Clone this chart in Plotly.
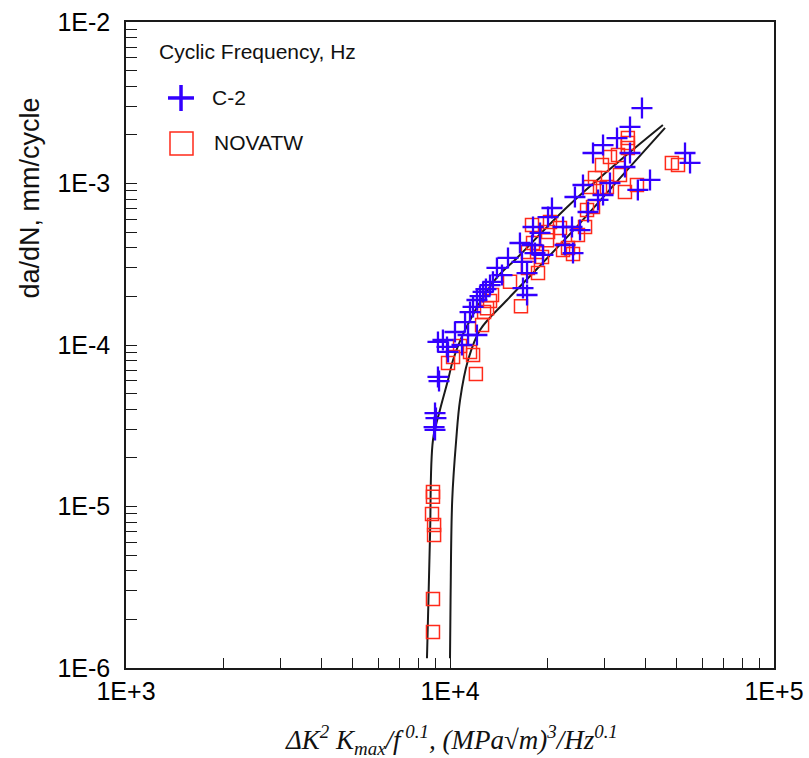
import plotly.graph_objects as go

# ---- data ----
c2_x = [8.99e3, 9.05e3, 8.93e3, 8.99e3, 9.18e3, 9.25e3, 9.18e3, 9.51e3, 9.79e3, 9.86e3,
        1.036e4, 1.089e4, 1.113e4, 1.137e4, 1.211e4, 1.153e4, 1.178e4, 1.211e4, 1.238e4, 1.265e4,
        1.291e4, 1.329e4, 1.357e4, 1.396e4, 1.447e4, 1.51e4, 1.644e4, 1.668e4, 1.680e4, 1.729e4,
        1.729e4, 1.791e4, 1.829e4, 1.804e4, 1.896e4, 1.936e4, 2.007e4, 2.064e4, 2.233e4, 2.380e4,
        2.519e4, 2.265e4, 2.397e4, 2.43e4, 2.573e4, 2.763e4, 2.863e4, 2.967e4, 2.967e4, 3.117e4,
        3.277e4, 3.467e4, 3.594e4, 3.594e4, 3.913e4, 3.80e4, 4.143e4, 5.313e4, 5.506e4, 2.667e4]
c2_y = [3.79e-5, 3.53e-5, 3.10e-5, 2.98e-5, 6.34e-5, 5.98e-5, 1.045e-4, 1.074e-4, 9.73e-5, 9.06e-5,
        1.204e-4, 1.0e-4, 1.387e-4, 1.153e-4, 1.153e-4, 1.60e-4, 1.72e-4, 1.90e-4, 2.01e-4, 2.13e-4,
        2.22e-4, 2.35e-4, 2.46e-4, 3.00e-4, 2.71e-4, 3.46e-4, 4.28e-4, 3.27e-4, 2.25e-4, 2.04e-4,
        2.79e-4, 4.16e-4, 3.71e-4, 5.38e-4, 4.94e-4, 3.61e-4, 6.20e-4, 7.05e-4, 5.38e-4, 5.38e-4,
        5.15e-4, 4.16e-4, 3.71e-4, 8.25e-4, 9.79e-4, 1.545e-3, 7.91e-4, 8.49e-4, 1.73e-3, 1.007e-3,
        1.91e-3, 1.265e-3, 1.545e-3, 2.24e-3, 2.93e-3, 9.12e-4, 1.052e-3, 1.545e-3, 1.34e-3, 6.66e-4]

nova_x = [8.86e3, 8.86e3, 8.80e3, 8.93e3, 8.93e3, 8.86e3, 8.86e3, 9.86e3, 1.022e4, 1.074e4,
          1.153e4, 1.178e4, 1.202e4, 1.256e4, 1.274e4, 1.301e4, 1.329e4, 1.348e4, 1.532e4, 1.656e4,
          1.740e4, 1.869e4, 1.804e4, 1.791e4, 1.993e4, 2.007e4, 2.035e4, 2.185e4, 1.856e4, 1.923e4,
          2.233e4, 2.313e4, 2.397e4, 2.483e4, 2.611e4, 2.648e4, 2.763e4, 2.704e4, 2.904e4, 3.05e4,
          2.802e4, 2.945e4, 3.117e4, 3.30e4, 3.347e4, 3.467e4, 3.54e4, 3.54e4, 3.54e4, 3.776e4,
          4.84e4, 5.055e4, 1.740e4]
nova_y = [1.23e-5, 1.15e-5, 8.99e-6, 7.68e-6, 6.66e-6, 2.67e-6, 1.67e-6, 7.74e-5, 8.43e-5, 9.86e-5,
          9.06e-5, 8.67e-5, 6.61e-5, 1.33e-4, 1.60e-4, 1.69e-4, 1.87e-4, 2.04e-4, 2.46e-4, 1.74e-4,
          3.00e-4, 2.79e-4, 4.28e-4, 5.54e-4, 4.46e-4, 5.01e-4, 5.78e-4, 5.30e-4, 3.77e-4, 3.51e-4,
          3.87e-4, 3.99e-4, 3.66e-4, 4.80e-4, 5.38e-4, 6.85e-4, 7.15e-4, 9.50e-4, 9.37e-4, 9.50e-4,
          1.082e-3, 1.302e-3, 1.459e-3, 1.50e-3, 1.13e-3, 8.86e-4, 1.91e-3, 1.78e-3, 1.66e-3, 9.79e-4,
          1.34e-3, 1.30e-3, 3.77e-4]

fit1_x = [8.49e3, 8.58e3, 8.68e3, 8.86e3, 9.31e3, 9.86e3, 1.022e4, 1.113e4, 1.377e4, 1.61e4,
          2.30e4, 3.28e4, 4.54e4]
fit1_y = [1.15e-6, 2.64e-6, 6.86e-6, 2.58e-5, 3.96e-5, 6.07e-5, 8.07e-5, 1.24e-4, 2.53e-4, 3.46e-4,
          7.15e-4, 1.34e-3, 2.30e-3]
fit2_x = [1.0e4, 1.004e4, 1.016e4, 1.045e4, 1.074e4, 1.137e4, 1.238e4, 1.50e4, 1.804e4, 2.52e4,
          3.52e4, 4.61e4]
fit2_y = [1.15e-6, 2.64e-6, 1.10e-5, 2.58e-5, 4.56e-5, 8.07e-5, 1.24e-4, 1.90e-4, 2.79e-4, 5.69e-4,
          1.21e-3, 2.21e-3]

x_tickvals = [1e3, 1e4, 1e5]
x_ticktext = ["1E+3", "1E+4", "1E+5"]
y_tickvals = [1e-6, 1e-5, 1e-4, 1e-3, 1e-2]
y_ticktext = ["1E-6", "1E-5", "1E-4", "1E-3", "1E-2"]
minor_digits = [2, 3, 4, 5, 6, 7, 8, 9]
x_minor = [d * 10 ** e for e in (3, 4) for d in minor_digits]
y_minor = [d * 10.0 ** e for e in (-6, -5, -4, -3) for d in minor_digits]

BLUE = "#3300ff"
RED = "#ff2a1a"
INK = "#1a1a1a"

fig = go.Figure()
for fx, fy in ((fit1_x, fit1_y), (fit2_x, fit2_y)):
    fig.add_trace(go.Scatter(x=fx, y=fy, mode="lines",
                             line=dict(color=INK, width=2, shape="spline", smoothing=1.0),
                             hoverinfo="skip"))
fig.add_trace(go.Scatter(x=nova_x, y=nova_y, mode="markers", name="NOVATW",
                         marker=dict(symbol="square-open", size=13,
                                     color=RED, line=dict(color=RED, width=1.5))))
fig.add_trace(go.Scatter(x=c2_x, y=c2_y, mode="markers", name="C-2",
                         marker=dict(symbol="cross-thin", size=15,
                                     color=BLUE, line=dict(color=BLUE, width=2.3))))

tickfont = dict(family="Liberation Sans, Arial, sans-serif", size=25, color="black")
fig.update_xaxes(type="log", range=[3, 5], tickmode="array", tickvals=x_tickvals,
                 ticktext=x_ticktext, ticks="inside", ticklen=10, tickwidth=1.3,
                 tickcolor=INK, showline=True, linecolor=INK, linewidth=1.5, mirror=True,
                 showgrid=False, zeroline=False, tickfont=tickfont, automargin=False,
                 minor=dict(tickmode="array", tickvals=x_minor, ticks="inside",
                            ticklen=10, tickwidth=1.3, tickcolor=INK, showgrid=False))
fig.update_yaxes(type="log", range=[-6, -2], tickmode="array", tickvals=y_tickvals,
                 ticktext=y_ticktext, ticks="inside", ticklen=11, tickwidth=1.3,
                 tickcolor=INK, showline=True, linecolor=INK, linewidth=1.5, mirror=True,
                 showgrid=False, zeroline=False, tickfont=tickfont, automargin=False,
                 ticklabelstandoff=9,
                 minor=dict(tickmode="array", tickvals=y_minor, ticks="inside",
                            ticklen=11, tickwidth=1.3, tickcolor=INK, showgrid=False))

sans = "Liberation Sans, Arial, sans-serif"
anns = [
    dict(text="Cyclic Frequency, Hz", x=0.0478, y=0.9536, xanchor="left", yanchor="middle",
         font=dict(family=sans, size=21, color="#111")),
    dict(text="C-2", x=0.1296, y=0.8824, xanchor="left", yanchor="middle",
         font=dict(family=sans, size=21, color="#111")),
    dict(text="NOVATW", x=0.1327, y=0.8127, xanchor="left", yanchor="middle",
         font=dict(family=sans, size=21, color="#111")),
    dict(text="da/dN, mm/cycle", x=-0.148, y=0.727, textangle=-90, xanchor="center",
         yanchor="middle", font=dict(family=sans, size=27, color="#111")),
    dict(text="<i>ΔK<sup>2</sup> K<sub>max</sub>/f<sup> 0.1</sup>, (MPa√m)<sup>3</sup>/Hz<sup>0.1</sup></i>",
         x=0.503, y=-0.1115, xanchor="center", yanchor="middle",
         font=dict(family="Liberation Serif, Times New Roman, serif", size=27, color="#111")),
]
for a in anns:
    a.update(xref="paper", yref="paper", showarrow=False)

shapes = [
    dict(type="line", x0=0.0648, x1=0.1049, y0=0.8824, y1=0.8824, line=dict(color=BLUE, width=3.5)),
    dict(type="line", x0=0.0849, x1=0.0849, y0=0.8622, y1=0.9025, line=dict(color=BLUE, width=3.5)),
    dict(type="rect", x0=0.0679, x1=0.1034, y0=0.7941, y1=0.8297, line=dict(color=RED, width=1.5)),
]
for s in shapes:
    s.update(xref="paper", yref="paper")

fig.update_layout(width=809, height=758, margin=dict(l=126, r=35, t=22, b=90),
                  plot_bgcolor="white", paper_bgcolor="white", showlegend=False,
                  annotations=anns, shapes=shapes)

fig.write_html("out.html", config={"displayModeBar": False},
               post_script="document.body.style.margin='0px';document.body.style.overflow='hidden';")
